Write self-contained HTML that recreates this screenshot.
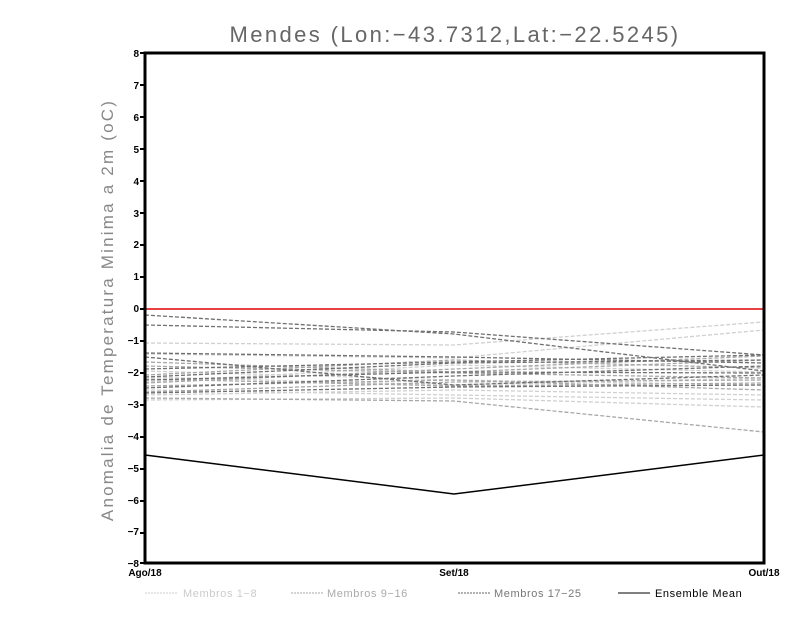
<!DOCTYPE html>
<html><head><meta charset="utf-8"><style>body{margin:0;background:#fff}svg{display:block}</style></head><body>
<svg width="800" height="618" xmlns="http://www.w3.org/2000/svg" font-family="Liberation Sans, sans-serif">
<rect width="800" height="618" fill="#fff"/>
<text x="455" y="42" font-size="22" text-anchor="middle" fill="#666" letter-spacing="2.4">Mendes (Lon:−43.7312,Lat:−22.5245)</text>
<text transform="translate(113,310) rotate(-90)" font-size="17" text-anchor="middle" fill="#888" letter-spacing="2.2">Anomalia de Temperatura Minima a 2m (oC)</text>
<g fill="none" stroke-width="1.3" stroke-dasharray="4,2">
<g stroke="#d0d0d0">
<polyline points="145,343 454,345 764,322"/>
<polyline points="145,354 454,358 764,330"/>
<polyline points="145,377 454,385 764,378"/>
<polyline points="145,390 454,395 764,400"/>
<polyline points="145,400 454,398 764,407"/>
<polyline points="145,382 454,365 764,372"/>
<polyline points="145,371 454,380 764,385"/>
<polyline points="145,395 454,390 764,395"/>
</g>
<g stroke="#a8a8a8">
<polyline points="145,362 454,372 764,360"/>
<polyline points="145,375 454,360 764,368"/>
<polyline points="145,386 454,380 764,390"/>
<polyline points="145,392 454,382 764,380"/>
<polyline points="145,366 454,373 764,378"/>
<polyline points="145,379 454,386 764,383"/>
<polyline points="145,398 454,401 764,432"/>
<polyline points="145,383 454,369 764,356"/>
</g>
<g stroke="#707070">
<polyline points="145,315 454,334 764,371"/>
<polyline points="145,325 454,332 764,355"/>
<polyline points="145,353 454,357 764,363"/>
<polyline points="145,369 454,362 764,355"/>
<polyline points="145,377 454,363 764,360"/>
<polyline points="145,388 454,376 764,366"/>
<polyline points="145,393 454,387 764,385"/>
<polyline points="145,380 454,372 764,373"/>
<polyline points="145,357 454,385 764,375"/>
</g>
</g>
<line x1="145" y1="309" x2="764" y2="309" stroke="#e84040" stroke-width="2"/>
<polyline points="145,455 454,494 764,455" fill="none" stroke="#000" stroke-width="1.5"/>
<rect x="145" y="53" width="619" height="510" fill="none" stroke="#000" stroke-width="3"/>
<g font-size="10" font-weight="bold" text-anchor="end" fill="#000">
<text x="139" y="57">8</text><text x="139" y="89">7</text><text x="139" y="121">6</text><text x="139" y="153">5</text><text x="139" y="185">4</text><text x="139" y="217">3</text><text x="139" y="248">2</text><text x="139" y="280">1</text><text x="139" y="312">0</text><text x="139" y="344">−1</text><text x="139" y="376">−2</text><text x="139" y="408">−3</text><text x="139" y="440">−4</text><text x="139" y="472">−5</text><text x="139" y="504">−6</text><text x="139" y="535">−7</text><text x="139" y="567">−8</text>
</g>
<g stroke="#000" stroke-width="2">
<line x1="140" y1="53" x2="145" y2="53"/><line x1="140" y1="85" x2="145" y2="85"/><line x1="140" y1="117" x2="145" y2="117"/><line x1="140" y1="149" x2="145" y2="149"/><line x1="140" y1="181" x2="145" y2="181"/><line x1="140" y1="213" x2="145" y2="213"/><line x1="140" y1="245" x2="145" y2="245"/><line x1="140" y1="277" x2="145" y2="277"/><line x1="140" y1="309" x2="145" y2="309"/><line x1="140" y1="341" x2="145" y2="341"/><line x1="140" y1="373" x2="145" y2="373"/><line x1="140" y1="405" x2="145" y2="405"/><line x1="140" y1="437" x2="145" y2="437"/><line x1="140" y1="469" x2="145" y2="469"/><line x1="140" y1="501" x2="145" y2="501"/><line x1="140" y1="533" x2="145" y2="533"/><line x1="140" y1="563" x2="145" y2="563"/>
</g>
<g font-size="10" font-weight="bold" text-anchor="middle" fill="#000">
<text x="145" y="576">Ago/18</text><text x="454" y="576">Set/18</text><text x="764" y="576">Out/18</text>
</g>
<g font-size="11" fill="#000" letter-spacing="0.6">
<line x1="145" y1="593" x2="177" y2="593" stroke="#ccc" stroke-dasharray="2,1"/><text x="183" y="597" fill="#ccc">Membros 1−8</text>
<line x1="291" y1="593" x2="323" y2="593" stroke="#aaa" stroke-dasharray="2,1"/><text x="327" y="597" fill="#aaa">Membros 9−16</text>
<line x1="458" y1="593" x2="490" y2="593" stroke="#666" stroke-dasharray="2,1"/><text x="494" y="597" fill="#777">Membros 17−25</text>
<line x1="618" y1="593" x2="650" y2="593" stroke="#000"/><text x="655" y="597">Ensemble Mean</text>
</g>
</svg>
</body></html>
